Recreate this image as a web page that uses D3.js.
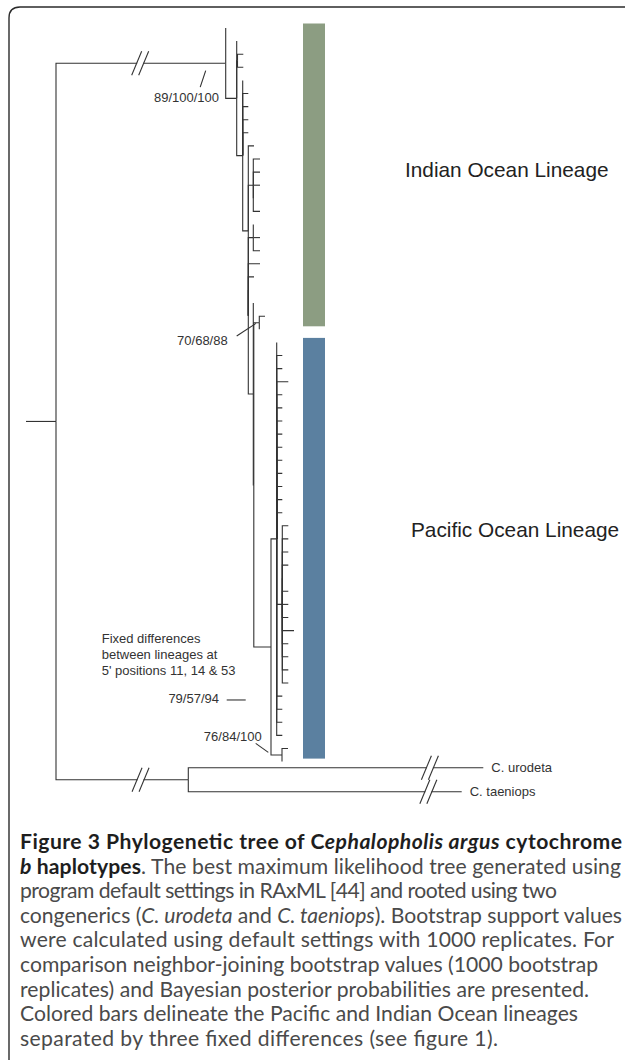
<!DOCTYPE html>
<html>
<head>
<meta charset="utf-8">
<script src="https://cdn.jsdelivr.net/npm/d3@7"></script>
<style>
  html, body { margin: 0; padding: 0; background: #fff; }
  svg { display: block; }
</style>
</head>
<body>
<div id="tree-chart-container"></div>
<script>
"use strict";

// edges in pre-order: [node, parent, branch length]
var edges = [
  ["root", null, 0],
  ["base", "root", 0.030],
  ["H", "base", 0.1697],
  ["h1", "H", 0],
  ["I", "H", 0.011],
  ["h2", "I", 0],
  ["Mi", "I", 0.0008],
  ["h3", "Mi", 0.0058],
  ["h4", "Mi", 0.0058],
  ["J", "I", 0.006],
  ["h5", "J", 0],
  ["h6", "J", 0.0056],
  ["h7", "J", 0.0056],
  ["h8", "J", 0.0056],
  ["h9", "J", 0.0056],
  ["K", "J", 0.0056],
  ["h10", "K", 0.0057],
  ["C180", "K", 0.005],
  ["h11", "C180", 0.0067],
  ["h12", "C180", 0.0067],
  ["h13", "C180", 0.0067],
  ["h14", "C180", 0],
  ["h15", "C180", 0.0067],
  ["K2", "K", 0],
  ["C237", "K2", 0.005],
  ["h16", "C237", 0],
  ["h17", "C237", 0.0067],
  ["h18", "C237", 0.0067],
  ["h19", "K2", 0.0117],
  ["h20", "K2", 0.0057],
  ["h21", "K2", 0],
  ["M", "K2", 0.005],
  ["h22", "M", 0],
  ["M2", "M", 0.0005],
  ["G", "M2", 0.0055],
  ["h23", "G", 0.0057],
  ["h24", "G", 0],
  ["P0", "M2", 0.0172],
  ["P1", "P0", 0.0057],
  ["h25", "P1", 0],
  ["h26", "P1", 0.0056],
  ["h27", "P1", 0.0056],
  ["h28", "P1", 0.0116],
  ["h29", "P1", 0.0056],
  ["h30", "P1", 0.0056],
  ["h31", "P1", 0.0056],
  ["h32", "P1", 0.0056],
  ["h33", "P1", 0.0056],
  ["h34", "P1", 0.0056],
  ["h35", "P1", 0.0056],
  ["h36", "P1", 0.0056],
  ["h37", "P1", 0.0056],
  ["h38", "P1", 0.0056],
  ["P2", "P1", 0.0056],
  ["h39", "P2", 0.006],
  ["h40", "P2", 0.006],
  ["h41", "P2", 0.006],
  ["h42", "P2", 0.006],
  ["h43", "P2", 0],
  ["h44", "P2", 0.006],
  ["h45", "P2", 0.006],
  ["h46", "P2", 0.006],
  ["h47", "P2", 0.0117],
  ["h48", "P2", 0.006],
  ["h49", "P2", 0.006],
  ["h50", "P2", 0.006],
  ["h51", "P2", 0.006],
  ["h52", "P1", 0.0056],
  ["h53", "P1", 0.0056],
  ["h54", "P1", 0.0056],
  ["h55", "P1", 0.0056],
  ["Bc", "P0", 0.011],
  ["h56", "Bc", 0.006],
  ["h57", "Bc", 0],
  ["out", "base", 0.1323],
  ["urodeta", "out", 0.295],
  ["taeniops", "out", 0.2734]
];

var outgroups = ["urodeta", "taeniops"];
var outgroupNames = ["C. urodeta", "C. taeniops"];

// [branch, position of the // mark along it]
var brokenBranches = [["H", 0.496], ["out", 0.639], ["urodeta", 0.819], ["taeniops", 0.878]];

var supportNodes = ["H", "G", "P0", "Bc"];
var supportValues = ["89/100/100", "70/68/88", "79/57/94", "76/84/100"];

var lineageNames = ["Indian Ocean Lineage", "Pacific Ocean Lineage"];
var lineageFirst = ["h1", "h25"];
var lineageLast = ["h24", "h57"];
var lineageColors = ["#8c9d82", "#5b80a0"];

var noteLines = ["Fixed differences", "between lineages at", "5' positions 11, 14 & 53"];

var captionLines = [
  [["Figure 3 Phylogenetic tree of C", "b"], ["ephalopholis argus", "bi"], [" cytochrome", "b"]],
  [["b", "bi"], [" haplotypes", "b"], [". The best maximum likelihood tree generated using", ""]],
  [["program default settings in RAxML [44] and rooted using two", ""]],
  [["congenerics (", ""], ["C. urodeta", "i"], [" and ", ""], ["C. taeniops", "i"], ["). Bootstrap support values", ""]],
  [["were calculated using default settings with 1000 replicates. For", ""]],
  [["comparison neighbor-joining bootstrap values (1000 bootstrap", ""]],
  [["replicates) and Bayesian posterior probabilities are presented.", ""]],
  [["Colored bars delineate the Pacific and Indian Ocean lineages", ""]],
  [["separated by three fixed differences (see figure 1).", ""]]
];

var width = 625, height = 1060;
var treeFont = "'Liberation Sans', Arial, sans-serif";
var ink = "#333";

var svg = d3.select("#tree-chart-container")
  .append("svg")
  .attr("width", width)
  .attr("height", height);

// frame
svg.append("path")
  .attr("d", "M9,1075V18Q9,7,20,7H640")
  .attr("fill", "none")
  .attr("stroke", "#2b2b2b")
  .attr("stroke-width", 1.4);

var x = d3.scaleLinear().domain([0, 0.5]).range([26, 526]);

var root = d3.stratify()
  .id(function(d) { return d[0]; })
  .parentId(function(d) { return d[1]; })(edges);

var ingroup = root.leaves()
  .filter(function(d) { return outgroups.indexOf(d.id) < 0; })
  .map(function(d) { return d.id; });

var yIn = d3.scalePoint().domain(ingroup).range([28, 761.6]);
var yOut = d3.scalePoint().domain(outgroups).range([767.7, 791.7]);

root.eachBefore(function(d) {
  d.len = d.parent ? d.parent.len + d.data[2] : 0;
  d.x = x(d.len);
});
root.eachAfter(function(d) {
  if (d.children) {
    d.y = (d.children[0].y + d.children[d.children.length - 1].y) / 2;
  } else {
    d.y = outgroups.indexOf(d.id) > -1 ? yOut(d.id) : yIn(d.id);
  }
});

function node(id) {
  return root.find(function(d) { return d.id === id; });
}

// lineage bars
var bars = svg.append("g");
lineageNames.forEach(function(name, i) {
  var y0 = yIn(lineageFirst[i]) - 4.5, y1 = yIn(lineageLast[i]) - 3;
  bars.append("rect")
    .attr("x", 303)
    .attr("y", y0)
    .attr("width", 22)
    .attr("height", y1 - y0)
    .attr("fill", lineageColors[i]);
});

bars.selectAll("text")
  .data(lineageNames)
  .join("text")
  .attr("x", function(d, i) { return [405, 411][i]; })
  .attr("y", function(d, i) { return [177, 537][i]; })
  .style("font-family", treeFont)
  .style("font-size", "20.8px")
  .style("fill", "#222")
  .text(function(d) { return d; });

// branches
var tree = svg.append("g")
  .attr("fill", "none")
  .attr("stroke", ink)
  .attr("stroke-width", 1.1);

tree.selectAll("path.link")
  .data(root.links())
  .join("path")
  .attr("class", "link")
  .attr("d", function(l) {
    return "M" + l.source.x + "," + l.source.y + "V" + l.target.y + "H" + l.target.x;
  });

brokenBranches.forEach(function(b) {
  var n = node(b[0]);
  var bx = n.parent.x + (n.x - n.parent.x) * b[1];
  var by = n.y;
  tree.append("rect")
    .attr("x", bx - 3)
    .attr("y", by - 2)
    .attr("width", 6)
    .attr("height", 4)
    .attr("fill", "#fff")
    .attr("stroke", "none");
  [-3.5, 3.5].forEach(function(s) {
    tree.append("line")
      .attr("x1", bx + s - 5)
      .attr("y1", by + 12)
      .attr("x2", bx + s + 5)
      .attr("y2", by - 12);
  });
});

// outgroup names
svg.append("g")
  .selectAll("text")
  .data(outgroups)
  .join("text")
  .attr("x", function(d) { return node(d).x + 8; })
  .attr("y", function(d) { return node(d).y + 4.6; })
  .style("font-family", treeFont)
  .style("font-size", "13px")
  .style("fill", "#333")
  .text(function(d, i) { return outgroupNames[i]; });

// support values: text offset and pointer from their node
var labelOffsets = [
  { tx: -6.7, ty: 39, p: [-25.5, 24, -20, 7.5] },
  { tx: -31.6, ty: 22.3, p: [-22.6, 13.3, -3.3, 0.6] },
  { tx: -52, ty: 56, p: [-44.3, 53, -25.3, 53] },
  { tx: -20.3, ty: -14.3, p: [-26.3, -11.7, -13.7, -2.7] }
];

var support = svg.append("g");
supportNodes.forEach(function(id, i) {
  var n = node(id), o = labelOffsets[i];
  support.append("text")
    .attr("x", n.x + o.tx)
    .attr("y", n.y + o.ty)
    .attr("text-anchor", "end")
    .style("font-family", treeFont)
    .style("font-size", "13px")
    .style("fill", "#333")
    .text(supportValues[i]);
  support.append("line")
    .attr("x1", n.x + o.p[0])
    .attr("y1", n.y + o.p[1])
    .attr("x2", n.x + o.p[2])
    .attr("y2", n.y + o.p[3])
    .attr("stroke", ink)
    .attr("stroke-width", 1.1);
});

svg.append("g")
  .selectAll("text")
  .data(noteLines)
  .join("text")
  .attr("x", 101.7)
  .attr("y", function(d, i) { return 643.3 + i * 16; })
  .style("font-family", treeFont)
  .style("font-size", "13px")
  .style("fill", "#333")
  .text(function(d) { return d; });

// caption
var captionWidths = [602, 601, 537, 602, 594, 578, 569, 558, 478];
var cap = svg.append("g")
  .style("font-family", "Lato, 'Open Sans', sans-serif")
  .style("font-size", "17px");

var capText = cap.selectAll("text")
  .data(captionLines)
  .join("text")
  .attr("x", 20)
  .attr("y", function(d, i) { return 849 + i * 24.6; });

capText.each(function(line) {
  var t = d3.select(this);
  line.forEach(function(seg) {
    t.append("tspan")
      .style("font-weight", seg[1].indexOf("b") > -1 ? "bold" : "normal")
      .style("font-style", seg[1].indexOf("i") > -1 ? "italic" : "normal")
      .style("fill", seg[1].indexOf("b") > -1 ? "#1e1e1e" : "#4a4a4a")
      .text(seg[0]);
  });
});

// fit the font size on the plain lines, then pin each line to its width
var measured = 0, target = 0;
capText.each(function(d, i) {
  if (i > 1) {
    measured += this.getComputedTextLength();
    target += captionWidths[i];
  }
});
cap.style("font-size", (17 * target / measured).toFixed(2) + "px");
capText
  .attr("textLength", function(d, i) { return captionWidths[i]; })
  .attr("lengthAdjust", "spacing");
</script>
</body>
</html>
